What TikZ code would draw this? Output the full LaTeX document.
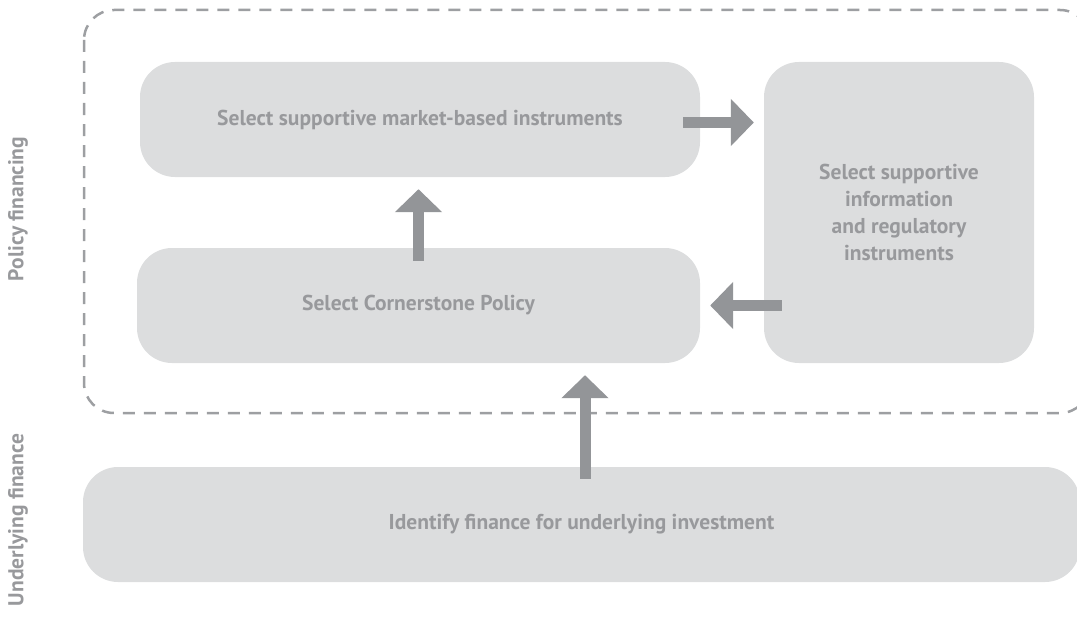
\documentclass[tikz,border=0pt]{standalone}
\usepackage{fontspec}
\setmainfont{PT Sans}
\usepackage{tikz}
\usetikzlibrary{arrows.meta,calc,positioning}
\definecolor{mypanel}{RGB}{220,221,222}
\definecolor{myarrow}{RGB}{147,149,152}
\definecolor{mytext}{RGB}{152,153,156}
\definecolor{mydash}{RGB}{157,159,162}
\tikzstyle{panel}=[fill=mypanel,rounded corners=35pt,text=mytext,font=\bfseries\fontsize{21.5}{27}\selectfont,align=center,inner sep=0pt]
\tikzstyle{flow}=[myarrow,line width=11pt,-{Triangle[width=46pt,length=23pt]}]
\tikzstyle{rowlabel}=[text=mytext,font=\bfseries\fontsize{21.5}{24}\selectfont,rotate=90]

\begin{document}
\begin{tikzpicture}[x=1pt,y=-1pt]
\useasboundingbox (0,0) rectangle (1077,626);
\clip (0,0) rectangle (1077,626);

% policy financing frame
\draw[mydash,line width=2.5pt,dash pattern=on 12pt off 9pt,rounded corners=30pt] (84,10) rectangle (1090,413);

\node [panel,minimum width=560pt,minimum height=115pt] (market) at (420,119.5) {Select supportive market-based instruments};
\node [panel,minimum width=563pt,minimum height=115pt] (corner) at (418.5,305.5) {Select Cornerstone Policy};
\node [panel,minimum width=270pt,minimum height=301pt] (regul) at (899,212.5) {Select supportive\\information\\and regulatory\\instruments};
\node [panel,minimum width=997pt,minimum height=115pt] (invest) at (581.5,524.5) {Identify finance for underlying investment};

\node [rowlabel] (policy) at (18,209) {Policy financing};
\node [rowlabel] (under) at (18,520) {Underlying finance};

\draw[flow] ($(market.east)+(-17,3)$) -- ($(regul.west |- market.east)+(-10,3)$);
\draw[flow] ($(corner.north)+(0,13)$) -- ($(corner.north |- market.south)+(0,12)$);
\draw[flow] ($(regul.west |- corner.east)+(18,0)$) -- ($(corner.east)+(10,0)$);
\draw[flow] ($(invest.north)+(3.5,12)$) -- ($(invest.north |- corner.south)+(3.5,12)$);
\end{tikzpicture}
\end{document}
